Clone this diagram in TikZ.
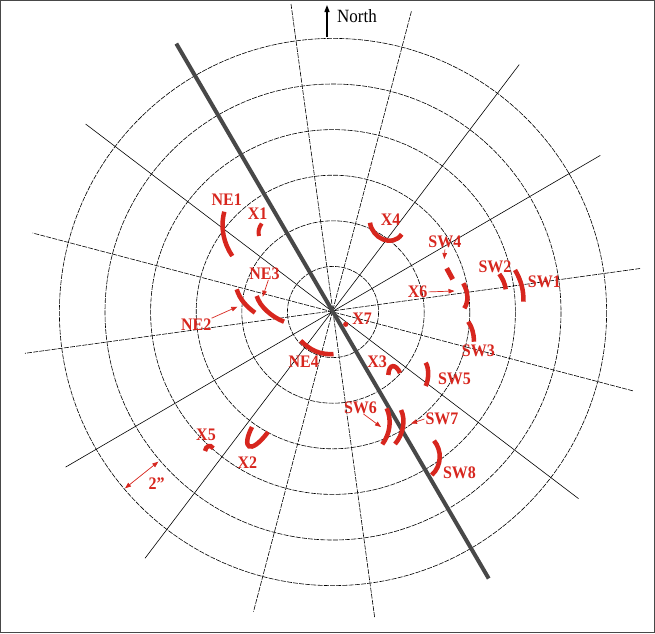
\documentclass[tikz,border=0pt]{standalone}
\usepackage{fontspec}
\usepackage{graphicx}
\setmainfont{Liberation Serif}
\usetikzlibrary{arrows.meta}
\definecolor{rd}{RGB}{215,38,30}
\definecolor{gr}{RGB}{72,72,72}
\newcommand{\tallt}[1]{\scalebox{1}[1.1]{#1}}
\begin{document}
\begin{tikzpicture}[x=1pt,y=-1pt,
  lbl/.style={text=rd,font=\fontsize{16}{16}\selectfont\bfseries,inner sep=0pt},
  redarc/.style={draw=rd,line width=4.5pt},
  ptr/.style={draw=rd,line width=0.7pt,-{Triangle[length=6pt,width=4.5pt]}},
  gridline/.style={line width=0.6pt},
  dgrid/.style={line width=0.6pt,dash pattern=on 5pt off 1.2pt}]
\useasboundingbox (0,0) rectangle (655,633);
\draw[gr,line width=1pt] (0.5,0.5) rectangle (654.5,632.5);
\coordinate (O) at (333,312);
% circles
\foreach \r in {1,...,6} \draw[dgrid] (O) circle[radius=45.6*\r];
% radial lines
\coordinate (a1) at (291,4);      \coordinate (b1) at (374.7,617.7);
\coordinate (a2) at (411.4,11.3); \coordinate (b2) at (253.5,611.6);
\coordinate (a3) at (519.2,64.6); \coordinate (b3) at (145,558.3);
\coordinate (a4) at (600.3,155.4);\coordinate (b4) at (65.6,467.1);
\coordinate (a5) at (640,268.5);  \coordinate (b5) at (25,353.3);
\coordinate (a6) at (632.8,390.8);\coordinate (b6) at (32.6,233);
\coordinate (a7) at (578.5,498.6);\coordinate (b7) at (85.6,124);
\draw[dgrid] (a1) -- (b1);
\draw[dgrid] (a2) -- (b2);
\draw[gridline] (a3) -- (b3);
\draw[gridline] (a4) -- (b4);
\draw[dgrid] (a5) -- (b5);
\draw[dgrid] (a6) -- (b6);
\draw[gridline] (a7) -- (b7);
% fault line
\coordinate (f1) at (176.3,43.6); \coordinate (f2) at (488.7,578.5);
\draw[gr,line width=4pt] (f1) -- (f2);
% north arrow
\coordinate (n0) at (327,37); \coordinate (n1) at (327,5);
\draw[line width=1.3pt,-{Triangle[length=7pt,width=5pt]}] (n0) -- (n1);
\node[inner sep=0pt,font=\fontsize{17}{17}\selectfont] (north) at (357,16) {\tallt{North}};
% red features
\draw[redarc] (224.3,211.7) .. controls (220,228) and (224,244) .. (232.3,256);
\draw[redarc,line width=4pt] (261.7,223.5) .. controls (258.5,228) and (258,232) .. (259,236);
\draw[redarc] (236.7,289.3) .. controls (240,300) and (247,307) .. (255,312.7);
\draw[redarc] (256.7,296) .. controls (260,307) and (272,317) .. (284,321.7);
\draw[redarc] (300.7,340.7) .. controls (310,350) and (320,355) .. (333.5,354);
\draw[redarc] (370,222.7) .. controls (372,238) and (392,248) .. (401.7,234.3);
\draw[redarc,line width=5pt] (446.7,268.3) -- (452.7,279.3);
\draw[redarc] (463.3,283.3) .. controls (468,292) and (469,301) .. (464.3,308.3);
\draw[redarc] (499.3,274) .. controls (503,279) and (505,284) .. (505.7,289.3);
\draw[redarc] (515,270) .. controls (521,280) and (524,291) .. (523.3,301.7);
\draw[redarc] (468.3,321.7) .. controls (472,327) and (474,334) .. (474,341.7);
\draw[redarc] (388.3,375) .. controls (389,363) and (396,364) .. (400,373);
\draw[redarc] (425.7,362.7) .. controls (429,368) and (429,379) .. (425.7,386);
\draw[redarc] (386.7,408.3) .. controls (392,420) and (390,434) .. (382.3,444.3);
\draw[redarc] (401,410) .. controls (406,420) and (403,435) .. (395,444);
\draw[redarc] (434,440.7) .. controls (442,450) and (442,466) .. (431.7,475);
\draw[redarc] (205,451) .. controls (206,446) and (210,444) .. (213.3,448.3);
\draw[redarc] (252,427) .. controls (241,448) and (250,456) .. (268,432);
\fill[rd] (345.7,324.3) circle[radius=2.6];
% labels
\node[lbl] (NE1) at (226.8,199.8) {\tallt{NE1}};
\node[lbl] (X1) at (257.7,213.2) {\tallt{X1}};
\node[lbl] (NE3) at (264.4,273.7) {\tallt{NE3}};
\node[lbl] (NE2) at (196.3,324.2) {\tallt{NE2}};
\node[lbl] (NE4) at (303.7,362.1) {\tallt{NE4}};
\node[lbl] (X7) at (362.2,318.9) {\tallt{X7}};
\node[lbl] (X4) at (390.6,220) {\tallt{X4}};
\node[lbl] (SW4) at (444.9,242.2) {\tallt{SW4}};
\node[lbl] (SW2) at (495,266.5) {\tallt{SW2}};
\node[lbl] (SW1) at (544.3,281.4) {\tallt{SW1}};
\node[lbl] (X6) at (417.7,291.9) {\tallt{X6}};
\node[lbl] (SW3) at (478.3,350.4) {\tallt{SW3}};
\node[lbl] (X3) at (377.2,361.3) {\tallt{X3}};
\node[lbl] (SW5) at (454.5,378.3) {\tallt{SW5}};
\node[lbl] (SW6) at (360.5,407.8) {\tallt{SW6}};
\node[lbl] (SW7) at (442,419) {\tallt{SW7}};
\node[lbl] (SW8) at (459.5,472.4) {\tallt{SW8}};
\node[lbl] (X5) at (206,435.2) {\tallt{X5}};
\node[lbl] (X2) at (247.3,462.3) {\tallt{X2}};
\node[lbl] (two) at (156.6,483.2) {\tallt{2”}};
% pointers
\coordinate (tNE2) at (237.3,306.7);
\coordinate (tNE3) at (262.7,296.7);
\coordinate (tSW4) at (444.3,259);
\coordinate (tX6) at (454.5,291);
\coordinate (tSW6) at (381,427);
\coordinate (tSW7) at (411,423.5);
\coordinate (d1) at (125,488.3);
\coordinate (d2) at (158.3,461.7);
\draw[ptr] (NE2.north east) -- (tNE2);
\draw[ptr] ([xshift=4pt]NE3.south) -- (tNE3);
\draw[ptr] ([yshift=-1pt]SW4.south) -- (tSW4);
\draw[ptr] ([xshift=1pt]X6.east) -- (tX6);
\draw[ptr] ([xshift=3pt]SW6.south) -- (tSW6);
\draw[ptr] ([xshift=-1pt]SW7.west) -- (tSW7);
\draw[ptr,{Triangle[length=6pt,width=4.5pt]}-{Triangle[length=6pt,width=4.5pt]}] (d1) -- (d2);
\end{tikzpicture}
\end{document}
